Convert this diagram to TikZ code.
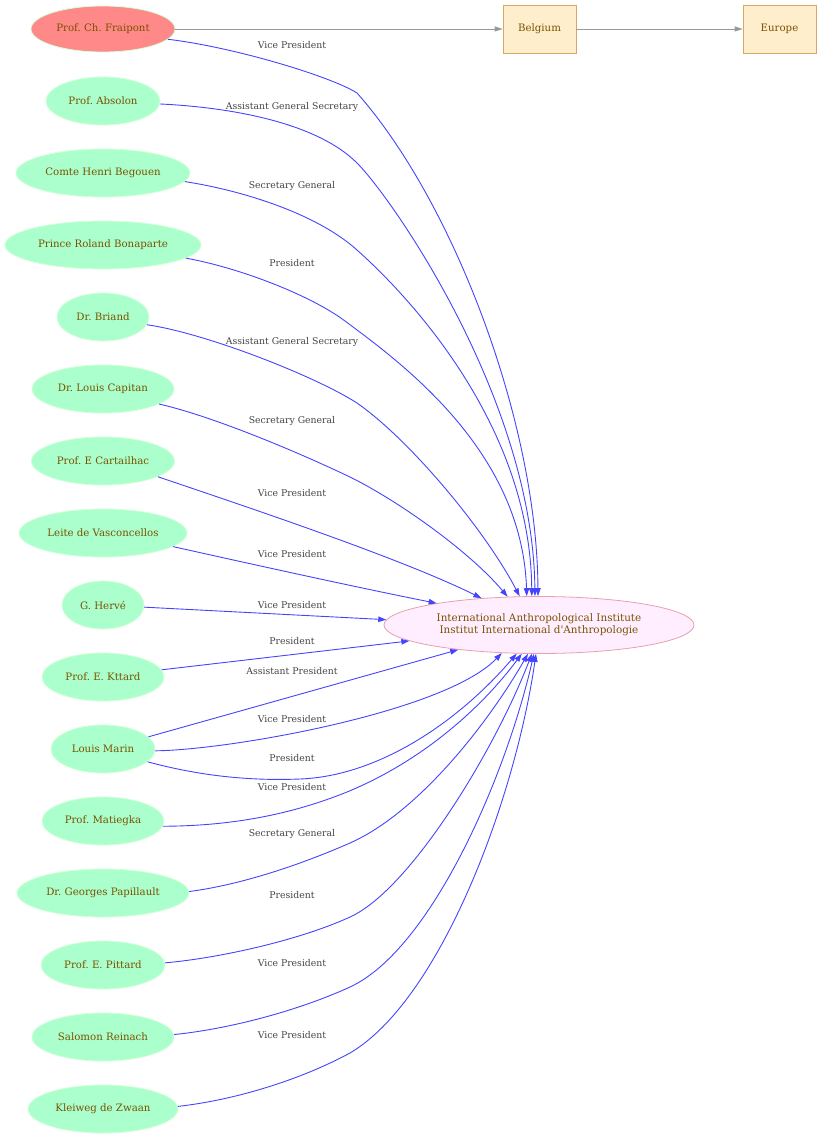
\documentclass[tikz,border=0pt]{standalone}
\usepackage{fontspec}
\setmainfont{DejaVu Serif}
\usetikzlibrary{shapes.geometric,arrows.meta}
\frenchspacing
\definecolor{txtbrown}{RGB}{122,82,0}
\definecolor{lbltxt}{RGB}{68,68,68}
\definecolor{fraired}{RGB}{255,136,136}
\definecolor{persgreen}{RGB}{170,255,204}
\definecolor{persline}{RGB}{210,255,215}
\definecolor{boxfill}{RGB}{255,238,204}
\definecolor{boxline}{RGB}{214,168,104}
\definecolor{iaifill}{RGB}{255,238,255}
\definecolor{iailine}{RGB}{232,160,170}
\definecolor{edgeblue}{RGB}{68,68,255}
\definecolor{edgegrey}{RGB}{153,153,153}
\tikzset{
  person/.style={ellipse, draw=persline, fill=persgreen, line width=0.8pt, inner sep=0pt,
    minimum height=48pt, text=txtbrown, font=\fontsize{10.2}{12}\selectfont},
  place/.style={rectangle, draw=boxline, fill=boxfill, line width=0.8pt, inner sep=0pt,
    minimum width=73pt, minimum height=48pt, text=txtbrown, font=\fontsize{10.2}{12}\selectfont},
  inst/.style={ellipse, draw=iailine, fill=iaifill, line width=0.8pt, inner sep=0pt,
    minimum width=310pt, minimum height=57pt, text=txtbrown, align=center,
    font=\fontsize{10.4}{12}\selectfont},
  lbl/.style={text=lbltxt, inner sep=1pt, font=\fontsize{9.3}{10}\selectfont},
  rel/.style={draw=edgeblue, line width=0.9pt, -{Triangle[length=8pt,width=5.5pt]}},
  geo/.style={draw=edgegrey, line width=0.9pt, -{Triangle[length=8pt,width=5pt]}}
}
\begin{document}
\begin{tikzpicture}[x=1pt,y=1pt]
\useasboundingbox (0,0) rectangle (821,-1139);
% people
\node[person, fill=fraired, draw=persline, minimum width=144pt, minimum height=46pt] (fra) at (103,-29) {Prof. Ch. Fraipont};
\node[person, minimum width=114pt] (abs) at (103,-101) {Prof. Absolon};
\node[person, minimum width=174pt] (beg) at (103,-173) {Comte Henri Begouen};
\node[person, minimum width=196pt] (bon) at (103,-245) {Prince Roland Bonaparte};
\node[person, minimum width=92pt] (bri) at (103,-317) {Dr. Briand};
\node[person, minimum width=142pt] (cap) at (103,-389) {Dr. Louis Capitan};
\node[person, minimum width=143pt] (car) at (103,-461) {Prof. E Cartailhac};
\node[person, minimum width=168pt] (lei) at (103,-533) {Leite de Vasconcellos};
\node[person, minimum width=82pt] (her) at (103,-605) {G. Hervé};
\node[person, minimum width=122pt] (ktt) at (103,-677) {Prof. E. Kttard};
\node[person, minimum width=104pt] (mar) at (103,-749) {Louis Marin};
\node[person, minimum width=122pt] (mat) at (103,-821) {Prof. Matiegka};
\node[person, minimum width=172pt] (pap) at (103,-893) {Dr. Georges Papillault};
\node[person, minimum width=124pt] (pit) at (103,-965) {Prof. E. Pittard};
\node[person, minimum width=142pt] (rei) at (103,-1037) {Salomon Reinach};
\node[person, minimum width=150pt] (zwa) at (103,-1109) {Kleiweg de Zwaan};
% places
\node[place] (bel) at (539.5,-29) {Belgium};
\node[place] (eur) at (779.5,-29) {Europe};
% institute
\node[inst] (iai) at (539,-625) {International Anthropological Institute\\Institut International d\textquotesingle Anthropologie};
% grey edges
\draw[geo] (fra) -- (bel);
\draw[geo] (bel) -- (eur);
% blue edges
\draw[rel] (fra.-9) .. controls (233,-47) and (330,-76) .. (357,-93) .. controls (452,-200) and (537,-420) .. (iai.92);
\draw[rel] (abs.-3) .. controls (225,-107) and (315,-121) .. (357,-163) .. controls (392,-198) and (533,-400) .. (iai.98);
\draw[rel] (beg.-6) .. controls (240,-190) and (316,-213) .. (357,-250) .. controls (402,-290) and (530,-420) .. (iai.104);
\draw[rel] (bon.-9) .. controls (240,-268) and (310,-295) .. (345,-321) .. controls (400,-362) and (522,-450) .. (iai.113);
\draw[rel] (bri.-10) .. controls (205,-333) and (315,-376) .. (357,-403) .. controls (410,-440) and (485,-530) .. (iai.124);
\draw[rel] (cap.-15) .. controls (220,-418) and (315,-460) .. (352,-478) .. controls (400,-502) and (470,-552) .. (iai.138);
\draw[rel] (car.-16) .. controls (250,-508) and (400,-558) .. (iai.155);
\draw[rel] (lei.-11) .. controls (260,-566) and (360,-588) .. (iai.168);
\draw[rel] (her.-3) -- (iai.178);
\draw[rel] (ktt.7) -- (iai.187);
\draw[rel] (mar.15) -- (iai.197);
\draw[rel] (mar.-2) .. controls (230,-750) and (445,-712) .. (iai.217);
\draw[rel] (mar.-16) .. controls (200,-776) and (250,-781) .. (300,-779) .. controls (380,-776) and (460,-720) .. (iai.232);
\draw[rel] (mat.-5) .. controls (230,-826) and (290,-815) .. (347,-792) .. controls (420,-762) and (480,-710) .. (iai.239);
\draw[rel] (pap.1) .. controls (240,-885) and (300,-865) .. (350,-843) .. controls (420,-812) and (490,-720) .. (iai.249);
\draw[rel] (pit.2) .. controls (220,-958) and (300,-940) .. (350,-917) .. controls (410,-890) and (495,-750) .. (iai.256);
\draw[rel] (rei.2) .. controls (230,-1029) and (300,-1010) .. (350,-987) .. controls (430,-950) and (505,-780) .. (iai.260);
\draw[rel] (zwa.2) .. controls (235,-1100) and (300,-1080) .. (350,-1053) .. controls (440,-1000) and (515,-800) .. (iai.264);
% labels
\node[lbl] (l1) at (292,-45) {Vice President};
\node[lbl] (l2) at (292,-107) {Assistant General Secretary};
\node[lbl] (l3) at (292,-186) {Secretary General};
\node[lbl] (l4) at (292,-263) {President};
\node[lbl] (l5) at (292,-342) {Assistant General Secretary};
\node[lbl] (l6) at (292,-421) {Secretary General};
\node[lbl] (l7) at (292,-493) {Vice President};
\node[lbl] (l8) at (292,-554) {Vice President};
\node[lbl] (l9) at (292,-605) {Vice President};
\node[lbl] (l10) at (292,-641) {President};
\node[lbl] (l11) at (292,-671) {Assistant President};
\node[lbl] (l12) at (292,-719) {Vice President};
\node[lbl] (l13) at (292,-758) {President};
\node[lbl] (l14) at (292,-787) {Vice President};
\node[lbl] (l15) at (292,-834) {Secretary General};
\node[lbl] (l16) at (292,-895) {President};
\node[lbl] (l17) at (292,-963) {Vice President};
\node[lbl] (l18) at (292,-1035) {Vice President};
\end{tikzpicture}
\end{document}
